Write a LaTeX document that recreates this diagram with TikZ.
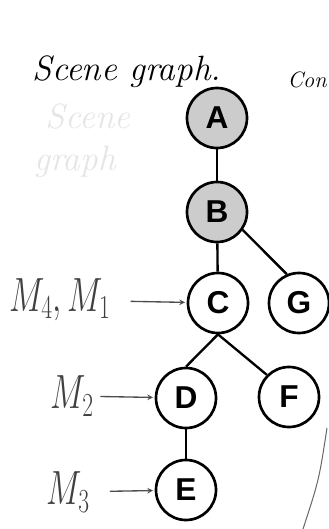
\RequirePackage{fix-cm}
\documentclass[tikz,border=0pt]{standalone}
\usepackage{fontspec}
\usepackage{graphicx}
\newfontfamily\letterfont{Liberation Sans}
\usetikzlibrary{calc}
\tikzset{
	vertex/.style={circle, draw, line width=0.8mm, minimum size=1.8cm, inner sep=0pt, font=\letterfont\bfseries\fontsize{27}{30}\selectfont},
	greyvertex/.style={vertex, fill=black!20},
	hand/.style={font=\itshape\fontsize{30}{34}\selectfont},
	pencil/.style={font=\fontsize{41}{45}\selectfont, color=black!75, inner sep=0pt},
	treeedge/.style={line width=0.7mm},
	tagarrow/.style={-stealth, line width=0.4mm, color=black!70}
}
\newcommand{\narrow}[1]{\scalebox{0.7}[1]{#1}}

\begin{document}
\begin{tikzpicture}[x=0.03cm, y=-0.03cm]
			%%%%% START %%%%%
			
			\useasboundingbox (0, 0) rectangle (328, 529);
			
			\node[hand, color=black!10] (ghostone) at (88, 116) {Scene};
			\node[hand, color=black!10] (ghosttwo) at (75, 162) {graph};
			
			\node[hand] (title) at (127, 72) {Scene graph.};
			\node[font=\itshape\fontsize{19}{22}\selectfont, inner sep=1pt, anchor=east] (cont) at (328, 80) {Con};
			
			\node[greyvertex] (A) at (217, 118) {A};
			\node[greyvertex] (B) at (217, 212) {B};
			\node[vertex] (C) at (218, 303) {C};
			\node[vertex] (G) at (299, 303) {G};
			\node[vertex] (D) at (186, 398) {D};
			\node[vertex] (F) at (289, 397) {F};
			\node[vertex] (E) at (186, 490) {E};
			
			\draw[treeedge] (A) -- (B);
			\draw[treeedge] (B) -- (C);
			\draw[treeedge] (B.-35) -- (G.113);
			\draw[treeedge] (C.south) -- (D.north);
			\draw[treeedge] (C.south) -- (F.north west);
			\draw[treeedge] (D) -- (E);
			
			\node[pencil] (mone) at (60, 300) {\narrow{$M_4, M_1$}};
			\node[pencil] (mtwo) at (72, 396) {\narrow{$M_2$}};
			\node[pencil] (mthree) at (68, 492) {\narrow{$M_3$}};
			
			\draw[tagarrow, shorten <=6mm, shorten >=0.5mm] (mone) -- (C);
			\draw[tagarrow, shorten <=2mm, shorten >=0.5mm] (mtwo) -- (D);
			\draw[tagarrow, shorten <=6mm, shorten >=0.5mm] (mthree) -- (E);
			
			\draw[line width=0.3mm, color=black!60] (327, 428) .. controls (319, 480) .. (303, 529);
			
			%%%%% END %%%%%
\end{tikzpicture}
\end{document}
